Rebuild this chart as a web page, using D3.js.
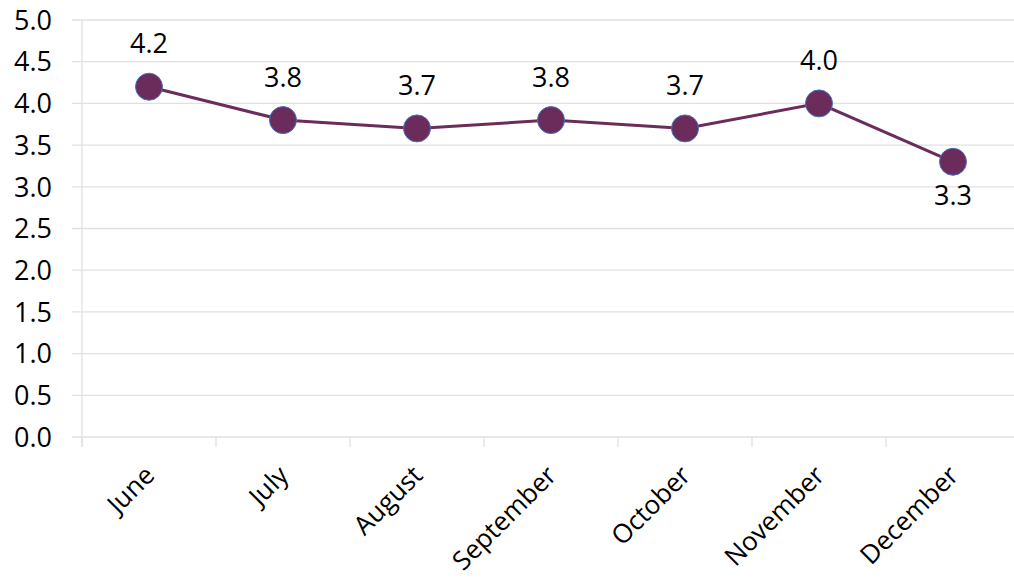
<!DOCTYPE html>
<html>
<head>
<meta charset="utf-8">
<script src="https://cdn.jsdelivr.net/npm/d3@7"></script>
<style>
  html, body { margin: 0; padding: 0; background: #ffffff; }
  svg text { font-family: "Open Sans", Calibri, sans-serif; fill: #000; }
</style>
</head>
<body>
<svg id="chart" width="1014" height="578"></svg>
<script>
// Monthly values
const months = ["June", "July", "August", "September", "October", "November", "December"];
const values = [4.2, 3.8, 3.7, 3.8, 3.7, 4.0, 3.3];
const yTicks = [0, 0.5, 1, 1.5, 2, 2.5, 3, 3.5, 4, 4.5, 5];
// data labels sit above each point except where noted
const labelBelow = [false, false, false, false, false, false, true];

const svg = d3.select("#chart");
const plotLeft = 82, plotRight = 1020, plotTop = 20, plotBottom = 437;
const fontSize = 27;

const x = d3.scaleBand().domain(months).range([plotLeft, plotRight]);
const y = d3.scaleLinear().domain([0, 5]).range([plotBottom, plotTop]);
const cx = d => x(d) + x.bandwidth() / 2;

// horizontal gridlines
svg.append("g")
  .selectAll("line")
  .data(yTicks)
  .join("line")
  .attr("x1", plotLeft - 10)
  .attr("x2", 1014)
  .attr("y1", d => y(d))
  .attr("y2", d => y(d))
  .attr("stroke", "#e0e0e0")
  .attr("stroke-width", 1.3);

// y axis line
svg.append("line")
  .attr("x1", plotLeft).attr("x2", plotLeft)
  .attr("y1", plotTop).attr("y2", plotBottom + 10)
  .attr("stroke", "#e0e0e0").attr("stroke-width", 1.3);

// x axis tick marks at category boundaries
const boundaries = months.map(m => x(m)).concat([plotRight]);
svg.append("g")
  .selectAll("line")
  .data(boundaries)
  .join("line")
  .attr("x1", d => d).attr("x2", d => d)
  .attr("y1", plotBottom).attr("y2", plotBottom + 10)
  .attr("stroke", "#e0e0e0").attr("stroke-width", 1.3);

// y tick labels
svg.append("g")
  .selectAll("text")
  .data(yTicks)
  .join("text")
  .attr("x", 52)
  .attr("y", d => y(d))
  .attr("dy", "0.36em")
  .attr("text-anchor", "end")
  .attr("font-size", fontSize)
  .text(d => d3.format(".1f")(d));

// x category labels, rotated
svg.append("g")
  .selectAll("text")
  .data(months)
  .join("text")
  .attr("transform", d => `translate(${cx(d) + 7},${plotBottom + 40}) rotate(-45)`)
  .attr("text-anchor", "end")
  .attr("font-size", 26)
  .text(d => d);

// line
const line = d3.line()
  .x((d, i) => cx(months[i]))
  .y(d => y(d));
svg.append("path")
  .datum(values)
  .attr("d", line)
  .attr("fill", "none")
  .attr("stroke", "#6b2c5b")
  .attr("stroke-width", 3);

// markers
svg.append("g")
  .selectAll("circle")
  .data(values)
  .join("circle")
  .attr("cx", (d, i) => cx(months[i]))
  .attr("cy", d => y(d))
  .attr("r", 13.5)
  .attr("fill", "#6b2c5b")
  .attr("stroke", "#4472c4")
  .attr("stroke-width", 1);

// data labels
svg.append("g")
  .selectAll("text")
  .data(values)
  .join("text")
  .attr("x", (d, i) => cx(months[i]))
  .attr("y", (d, i) => y(d) + (labelBelow[i] ? 33 : -43))
  .attr("dy", "0.36em")
  .attr("text-anchor", "middle")
  .attr("font-size", fontSize)
  .text(d => d3.format(".1f")(d));
</script>
</body>
</html>
